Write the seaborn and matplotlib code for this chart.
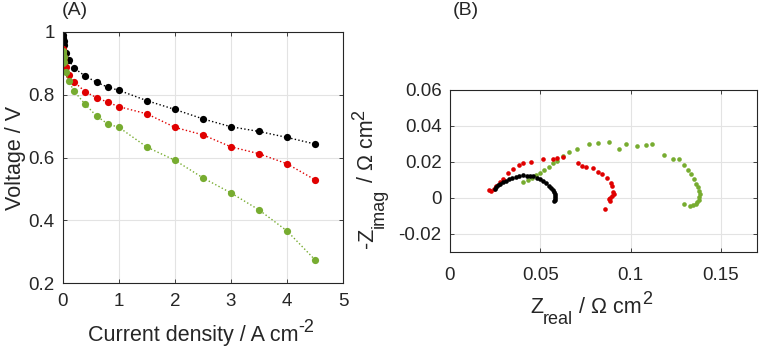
import matplotlib
matplotlib.use("Agg")
import matplotlib.pyplot as plt
import matplotlib.ticker as mticker
import seaborn as sns

# ── (A) polarisation curves ──────────────────────────────────────────────────
current = [0, 0.005, 0.01, 0.02, 0.05, 0.1, 0.2, 0.4, 0.6, 0.8, 1.0,
           1.5, 2.0, 2.5, 3.0, 3.5, 4.0, 4.5]
v_black = [0.99, 0.98, 0.97, 0.957, 0.933, 0.911, 0.885, 0.859, 0.840, 0.824,
           0.814, 0.781, 0.753, 0.723, 0.698, 0.683, 0.664, 0.643]
v_red = [0.945, 0.935, 0.92, 0.905, 0.888, 0.864, 0.841, 0.809, 0.791, 0.776,
         0.762, 0.739, 0.696, 0.672, 0.634, 0.612, 0.580, 0.529]
v_green = [0.94, 0.93, 0.92, 0.905, 0.872, 0.843, 0.811, 0.769, 0.732, 0.707,
           0.696, 0.633, 0.591, 0.535, 0.487, 0.433, 0.366, 0.274]

# ── (B) Nyquist plots ────────────────────────────────────────────────────────
zr_black = [0.0247, 0.0256, 0.0266, 0.0278, 0.0293, 0.0308, 0.0326, 0.0344,
            0.0363, 0.0381, 0.0403, 0.0425, 0.0443, 0.0462, 0.0480, 0.0498,
            0.0516, 0.0531, 0.0546, 0.0559, 0.0568, 0.0575, 0.0579, 0.0581,
            0.0581, 0.0579, 0.0577]
zi_black = [0.0050, 0.0062, 0.0071, 0.0080, 0.0090, 0.0097, 0.0105, 0.0112,
            0.0118, 0.0121, 0.0127, 0.0123, 0.0123, 0.0120, 0.0112, 0.0103,
            0.0093, 0.0082, 0.0069, 0.0056, 0.0045, 0.0034, 0.0022, 0.0011,
            0.0000, -0.0009, -0.0019]

zr_red = [0.0216, 0.0229, 0.0242, 0.0256, 0.0275, 0.0293, 0.0321, 0.0348,
          0.0381, 0.0407, 0.0449, 0.0516, 0.0568, 0.0595, 0.0626, 0.0709,
          0.0733, 0.0751, 0.0791, 0.0819, 0.0842, 0.0872, 0.0890, 0.0897,
          0.0903, 0.0907, 0.0897, 0.0888, 0.0883, 0.0888, 0.0861]
zi_red = [0.0044, 0.0041, 0.0050, 0.0069, 0.0091, 0.0106, 0.0137, 0.0159,
          0.0183, 0.0193, 0.0202, 0.0215, 0.0219, 0.0224, 0.0226, 0.0196,
          0.0178, 0.0172, 0.0169, 0.0146, 0.0133, 0.0109, 0.0085, 0.0067,
          0.0035, 0.0022, 0.0011, 0.0002, -0.0007, -0.0015, -0.0061]

zr_green = [0.0407, 0.0430, 0.0454, 0.0476, 0.0498, 0.0522, 0.0546, 0.0568,
            0.0590, 0.0623, 0.0659, 0.0705, 0.0769, 0.0819, 0.0879, 0.0938,
            0.0974, 0.1037, 0.1086, 0.1117, 0.1187, 0.1236, 0.1269, 0.1297,
            0.1319, 0.1337, 0.1352, 0.1364, 0.1374, 0.1379, 0.1383, 0.1381,
            0.1377, 0.1370, 0.1361, 0.1346, 0.1328, 0.1297]
zi_green = [0.0087, 0.0100, 0.0113, 0.0128, 0.0141, 0.0156, 0.0174, 0.0193,
            0.0207, 0.0233, 0.0254, 0.0272, 0.0298, 0.0307, 0.0313, 0.0274,
            0.0298, 0.0291, 0.0293, 0.0298, 0.0239, 0.0219, 0.0215, 0.0183,
            0.0155, 0.0131, 0.0103, 0.0080, 0.0060, 0.0041, 0.0024, 0.0006,
            -0.0009, -0.0022, -0.0032, -0.0039, -0.0043, -0.0034]

BLACK, RED, GREEN = "#000000", "#e00000", "#77ac30"
INK = "#262626"
W, H = 760, 347
LABEL_FS, SMALL_FS, TICK_FS = 15.5, 13, 13.5

sns.set_theme(style="ticks")
plt.rcParams["font.family"] = ["Liberation Sans", "DejaVu Sans"]
plt.rcParams["axes.unicode_minus"] = False


def matlab_axes(ax):
    ax.grid(True, color="#e3e3e3", linewidth=0.8)
    ax.set_axisbelow(True)
    for sp in ax.spines.values():
        sp.set_visible(True)
        sp.set_color(INK)
        sp.set_linewidth(0.8)
    ax.tick_params(direction="in", length=3, width=0.6, colors=INK,
                   labelcolor=INK, labelsize=TICK_FS, top=True, right=True)
    fmt = mticker.FuncFormatter(lambda v, p: f"{v:g}")
    ax.xaxis.set_major_formatter(fmt)
    ax.yaxis.set_major_formatter(fmt)


def tex_label(ax, x, y, parts, vertical=False):
    """MATLAB-ish label: sub/superscripts nearly full size.
    parts = [(text, 'n'|'sub'|'sup'), ...]; (x, y) in figure pixels,
    left/bottom corner of the first piece."""
    fig = ax.figure
    kw = dict(color=INK, annotation_clip=False)
    rot = 90 if vertical else 0
    base = fig.text(x / W, 1 - y / H, parts[0][0], fontsize=LABEL_FS,
                    color=INK, ha="left", va="bottom", rotation=rot)
    prev = base
    for text, kind in parts[1:]:
        if not vertical:
            if kind == "n":
                a = ax.annotate(text, xy=(1, 0), xycoords=(prev, base),
                                ha="left", va="bottom", fontsize=LABEL_FS, **kw)
            elif kind == "sub":
                a = ax.annotate(text, xy=(1, 0), xycoords=(prev, base),
                                xytext=(0, -7), textcoords="offset points",
                                ha="left", va="bottom", fontsize=SMALL_FS, **kw)
            else:
                a = ax.annotate(text, xy=(1, 1), xycoords=(prev, base),
                                xytext=(0, -2), textcoords="offset points",
                                ha="left", va="center", fontsize=SMALL_FS, **kw)
        else:
            if kind == "n":
                a = ax.annotate(text, xy=(0, 1), xycoords=(base, prev),
                                ha="left", va="bottom", rotation=90,
                                fontsize=LABEL_FS, **kw)
            elif kind == "sub":
                a = ax.annotate(text, xy=(1, 1), xycoords=(base, prev),
                                xytext=(7, 0), textcoords="offset points",
                                ha="right", va="bottom", rotation=90,
                                fontsize=SMALL_FS, **kw)
            else:
                a = ax.annotate(text, xy=(0, 1), xycoords=(base, prev),
                                xytext=(2, 0), textcoords="offset points",
                                ha="center", va="bottom", rotation=90,
                                fontsize=SMALL_FS, **kw)
        prev = a


fig = plt.figure(figsize=(W / 100, H / 100), dpi=100)
ax1 = fig.add_axes([63 / W, 1 - 283 / H, 280 / W, 251 / H])
ax2 = fig.add_axes([450 / W, 1 - 252 / H, 307 / W, 162 / H])

# (A)
for v, c in [(v_black, BLACK), (v_red, RED), (v_green, GREEN)]:
    sns.lineplot(x=current, y=v, color=c, linestyle=":", linewidth=1.0,
                 marker="o", markersize=5.2, markeredgewidth=0, ax=ax1)
ax1.set_xlim(0, 5)
ax1.set_ylim(0.2, 1)
ax1.set_xticks([0, 1, 2, 3, 4, 5])
ax1.set_yticks([0.2, 0.4, 0.6, 0.8, 1.0])
matlab_axes(ax1)
ax1.tick_params(axis="x", pad=7)
ax1.tick_params(axis="y", pad=6)
ax1.set_ylabel("Voltage / V", fontsize=LABEL_FS, color=INK, labelpad=2)
ax1.set_xlabel("")
tex_label(ax1, 88, 346, [("Current density / A cm", "n"), ("-2", "sup")])

# (B)
for zr, zi, c in [(zr_green, zi_green, GREEN), (zr_red, zi_red, RED),
                  (zr_black, zi_black, BLACK)]:
    sns.scatterplot(x=zr, y=zi, color=c, s=11, linewidth=0, ax=ax2)
ax2.set_xlim(0, 0.17)
ax2.set_ylim(-0.03, 0.06)
ax2.set_xticks([0, 0.05, 0.1, 0.15])
ax2.set_yticks([-0.02, 0, 0.02, 0.04, 0.06])
matlab_axes(ax2)
ax2.tick_params(axis="x", pad=11)
ax2.tick_params(axis="y", pad=6)
ax2.set_xlabel("")
ax2.set_ylabel("")
tex_label(ax2, 530, 318, [("Z", "n"), ("real", "sub"), (" / Ω cm", "n"),
                          ("2", "sup")])
tex_label(ax2, 357, 248, [("-Z", "n"), ("imag", "sub"), (" / Ω cm", "n"),
                          ("2", "sup")], vertical=True)

fig.text(62 / W, 1 - 2 / H, "(A)", fontsize=14, color=INK,
         ha="left", va="top")
fig.text(453 / W, 1 - 2 / H, "(B)", fontsize=14, color=INK,
         ha="left", va="top")

fig.savefig("out.png", dpi=100)
